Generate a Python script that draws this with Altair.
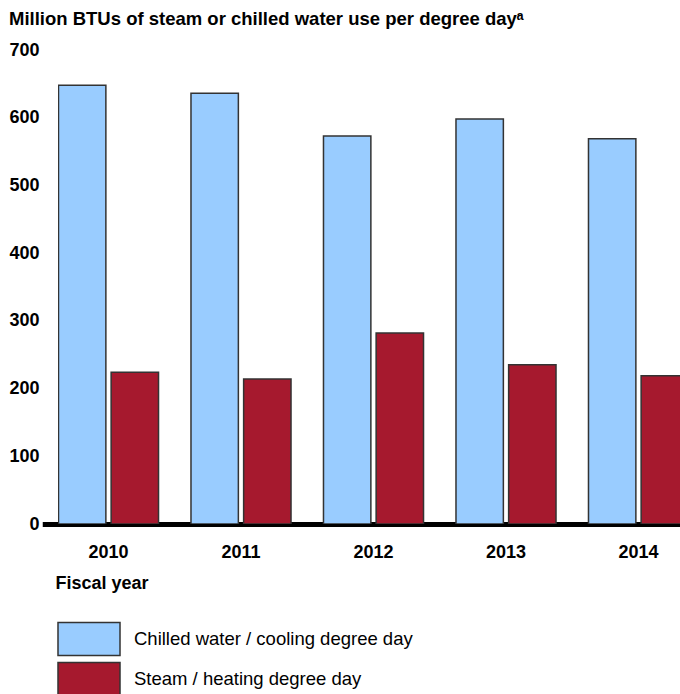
import altair as alt
import pandas as pd

years = ["2010", "2011", "2012", "2013", "2014"]
chilled = [648, 636, 573, 598, 569]
steam = [224, 214, 282, 235, 219]
series = ["Chilled water / cooling degree day", "Steam / heating degree day"]
colors = ["#99CCFF", "#A6192E"]

rows = []
for y, c, s in zip(years, chilled, steam):
    rows.append({"year": y, "series": series[0], "value": c})
    rows.append({"year": y, "series": series[1], "value": s})
df = pd.DataFrame(rows)

FONT = "Liberation Sans, Arial, sans-serif"

chart = alt.Chart(df).mark_bar(
    clip=True, stroke="#333333", strokeWidth=1.5
).encode(
    x=alt.X(
        "year:N",
        sort=years,
        scale=alt.Scale(range=[-15.75, 646.75], paddingInner=0.245, paddingOuter=0.1225),
        axis=alt.Axis(
            title="Fiscal year",
            labelAngle=0,
            labelFont=FONT, labelFontSize=18, labelFontWeight="bold", labelColor="black",
            labelPadding=19, ticks=False,
            domainColor="black", domainWidth=5,
            titleFont=FONT, titleFontSize=18, titleFontWeight="bold", titleColor="black",
            titleAnchor="start", titleAlign="left", titleX=-3, titleY=59,
            titleBaseline="middle",
        ),
    ),
    xOffset=alt.XOffset("series:N", sort=series,
                        scale=alt.Scale(paddingInner=0.1, paddingOuter=0)),
    y=alt.Y(
        "value:Q",
        scale=alt.Scale(domain=[0, 700], nice=False),
        axis=alt.Axis(
            title=None, values=[0, 100, 200, 300, 400, 500, 600, 700],
            grid=False, domain=False, ticks=False,
            labelFont=FONT, labelFontSize=18, labelFontWeight="bold", labelColor="black",
            labelPadding=19,
        ),
    ),
    color=alt.Color(
        "series:N",
        sort=series,
        scale=alt.Scale(domain=series, range=colors),
        legend=alt.Legend(
            title=None, orient="none", legendX=13.5, legendY=571.5,
            direction="vertical",
            symbolType="M-1.879,-1H1.879V1H-1.879Z", symbolSize=1089,
            symbolStrokeColor="#333333", symbolStrokeWidth=1.5,
            symbolOpacity=1,
            labelFont=FONT, labelFontSize=18.5, labelColor="black",
            labelOffset=27.5, rowPadding=1, labelLimit=500,
        ),
    ),
).properties(
    width=622,
    height=474,
    padding={"left": 58, "top": 50, "right": 0, "bottom": 170},
    autosize=alt.AutoSizeParams(type="none"),
    title=alt.Title(
        "Million BTUs of steam or chilled water use per degree dayᵃ",
        anchor="start", frame="bounds", font=FONT, fontSize=18.5, fontWeight="bold",
        color="black", offset=13,
    ),
).configure_view(stroke=None)

chart.save("out.html", embed_options={"renderer": "svg", "actions": False})
